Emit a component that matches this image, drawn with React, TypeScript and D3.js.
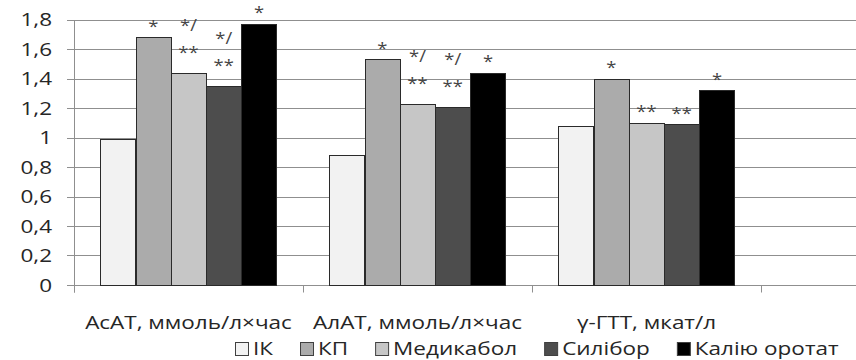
import React from 'react';
import * as d3 from 'd3';

const categories = ['АсАТ, ммоль/л×час', 'АлАТ, ммоль/л×час', 'γ-ГТТ, мкат/л', ' '];
const seriesNames = ['ІК', 'КП', 'Медикабол', 'Силібор', 'Калію оротат'];
const seriesColors = ['#f2f2f2', '#ababab', '#c6c6c6', '#4d4d4d', '#000000'];
const ikValues = [0.99, 0.88, 1.08];
const kpValues = [1.68, 1.53, 1.4];
const medikabolValues = [1.44, 1.23, 1.1];
const siliborValues = [1.35, 1.21, 1.09];
const kaliyValues = [1.77, 1.44, 1.32];
const ikMarks = ['', '', ''];
const kpMarks = ['*', '*', '*'];
const medikabolMarks = ['*/|**', '*/|**', '**'];
const siliborMarks = ['*/|**', '*/|**', '**'];
const kaliyMarks = ['*', '*', '*'];
const yTicks = [0, 0.2, 0.4, 0.6, 0.8, 1, 1.2, 1.4, 1.6, 1.8];

const seriesValues = [ikValues, kpValues, medikabolValues, siliborValues, kaliyValues];
const seriesMarks = [ikMarks, kpMarks, medikabolMarks, siliborMarks, kaliyMarks];

const W = 856;
const H = 360;
const FONT = '"Open Sans", "Noto Sans", sans-serif';
const FS = 18;
const SX = 1.25;

function measure(text: string, size: number): number {
  const c = document.createElement('canvas').getContext('2d');
  if (!c) return text.length * size * 0.55;
  c.font = `${size}px "Open Sans"`;
  return c.measureText(text).width;
}

function T(props: { x: number; y: number; anchor?: string; size?: number; fill?: string; sx?: number; children: any }) {
  const { x, y, anchor = 'start', size = FS, fill = '#262626', sx = SX, children } = props;
  return (
    <text
      transform={`translate(${x},${y}) scale(${sx},1)`}
      textAnchor={anchor}
      fontFamily={FONT}
      fontSize={size}
      fill={fill}
    >
      {children}
    </text>
  );
}

export default function App() {
  const y = d3.scaleLinear().domain([0, 1.8]).range([285, 19.5]);
  const x0 = d3.scaleBand<string>().domain(categories).range([74, 990]).paddingInner(0).paddingOuter(0);
  const x1 = d3
    .scaleBand<string>()
    .domain(seriesNames)
    .range([0, x0.bandwidth()])
    .paddingInner(0)
    .paddingOuter(0.75);
  const fmt = (d: number) => String(+d.toFixed(1)).replace('.', ',');
  const py = (v: number) => Math.round(y(v)) + 0.5;
  const base = py(0);

  // legend layout
  const legendStart = 235;
  const sq = 13;
  let cursor = legendStart;
  const legendItems = seriesNames.map((name, i) => {
    const item = { name, color: seriesColors[i], x: cursor };
    cursor += sq + 5 + measure(name, FS) * SX + 27;
    return item;
  });

  return (
    <svg width={W} height={H} style={{ position: 'absolute', left: 0, top: 0, background: '#fff' }}>
      <rect x={0} y={0} width={W} height={H} fill="#fff" />
      {/* gridlines */}
      {yTicks.map((t) => (
        <line key={'g' + t} x1={67} x2={W} y1={py(t)} y2={py(t)} stroke="#8f8f8f" strokeWidth={1} />
      ))}
      {/* y axis */}
      <line x1={74.5} x2={74.5} y1={py(1.8)} y2={base + 7} stroke="#8f8f8f" />
      {/* category ticks */}
      {categories.map((c) => (
        <line
          key={'ct' + c}
          x1={Math.round(x0(c)!) + 0.5}
          x2={Math.round(x0(c)!) + 0.5}
          y1={base}
          y2={base + 7}
          stroke="#8f8f8f"
        />
      ))}
      {/* y tick labels */}
      {yTicks.map((t) => (
        <T key={'yl' + t} x={52} y={y(t) + 6.5} anchor="end">
          {fmt(t)}
        </T>
      ))}
      {/* bars */}
      {seriesNames.map((s, si) =>
        seriesValues[si].map((v, ci) => {
          const bx = x0(categories[ci])! + x1(s)!;
          const top = y(v);
          return (
            <rect
              key={s + ci}
              x={Math.round(bx) + 0.5}
              y={Math.round(top) + 0.5}
              width={Math.round(x1.bandwidth())}
              height={Math.round(y(0)) - Math.round(top)}
              fill={seriesColors[si]}
              stroke="#2a2a2a"
              strokeWidth={1}
            />
          );
        })
      )}
      {/* significance marks */}
      {seriesNames.map((s, si) =>
        seriesMarks[si].map((m, ci) => {
          if (!m) return null;
          const cx = x0(categories[ci])! + x1(s)! + x1.bandwidth() / 2;
          const top = y(seriesValues[si][ci]);
          const lines = m.split('|');
          const bottomOffset = lines.length > 1 ? 24 : 15;
          return lines.map((ln, li) => {
            const centerY = top - bottomOffset - (lines.length - 1 - li) * 27;
            return (
              <T key={s + ci + 'm' + li} x={cx} y={centerY + 9.5} anchor="middle" size={16} fill="#444" sx={1.15}>
                {ln}
              </T>
            );
          });
        })
      )}
      {/* category labels */}
      {categories.map((c) => (
        <T key={'cl' + c} x={x0(c)! + x0.bandwidth() / 2} y={329} anchor="middle">
          {c}
        </T>
      ))}
      {/* legend */}
      {legendItems.map((it) => (
        <g key={'lg' + it.name}>
          <rect x={it.x + 0.5} y={342.5} width={sq} height={sq} fill={it.color} stroke="#404040" />
          <T x={it.x + sq + 5} y={355}>
            {it.name}
          </T>
        </g>
      ))}
    </svg>
  );
}
